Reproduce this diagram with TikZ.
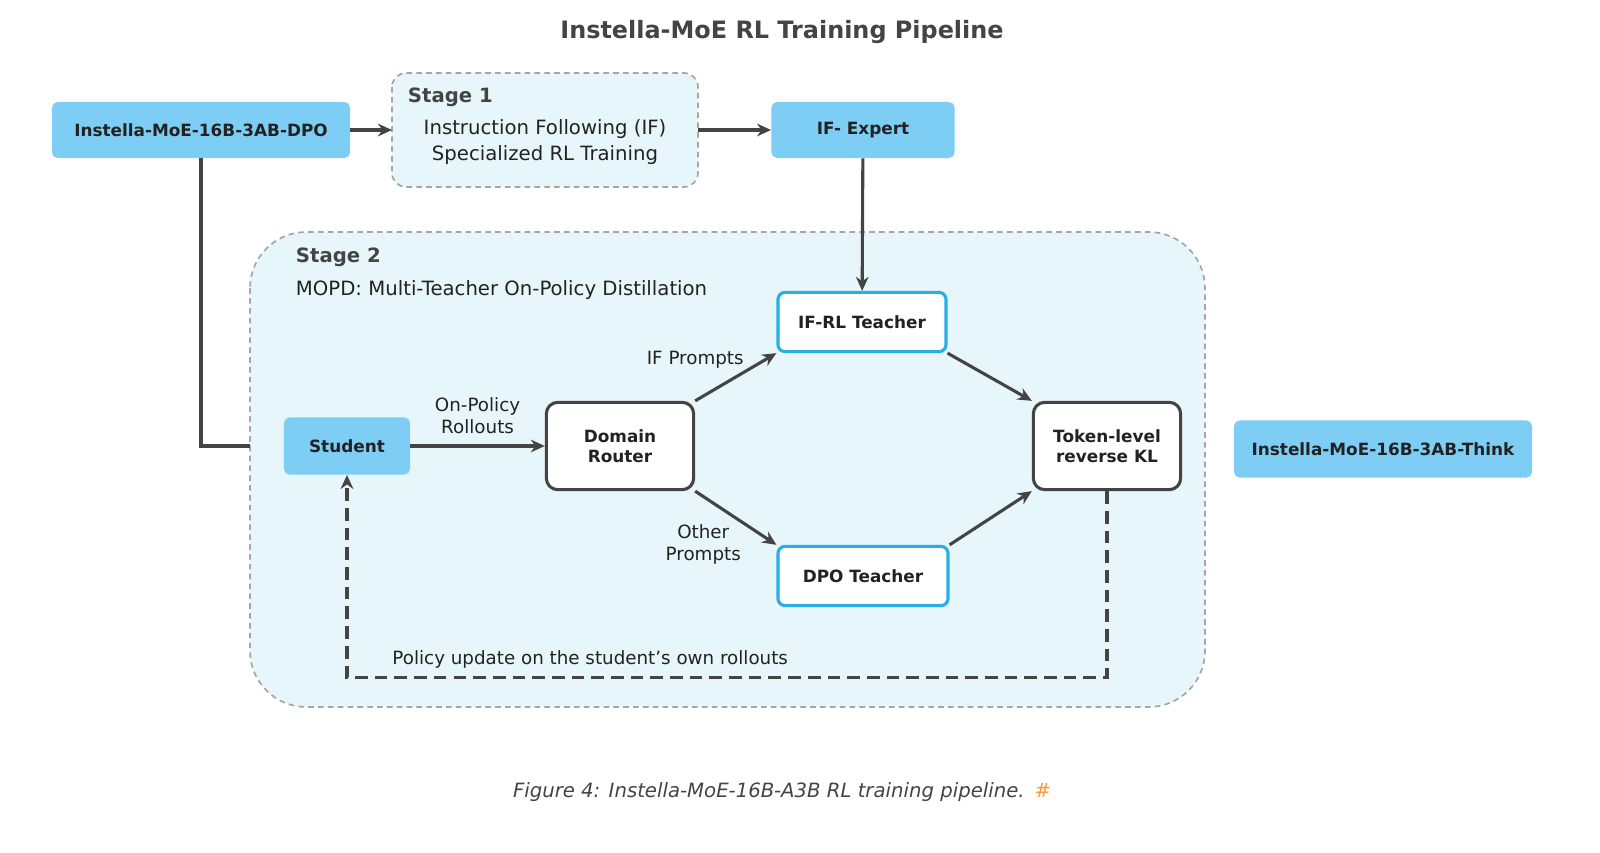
\documentclass[tikz,border=0pt]{standalone}
\usepackage{fontspec}
\setmainfont{DejaVu Sans}
\usepackage{xcolor}
\usetikzlibrary{positioning,arrows.meta}
\definecolor{boxblue}{HTML}{7DCDF5}
\definecolor{stagefill}{HTML}{E6F6FB}
\definecolor{tealborder}{HTML}{29AEE8}
\definecolor{darkline}{HTML}{444444}
\definecolor{txt}{HTML}{222222}

\tikzset{
  model/.style={rectangle,rounded corners=4pt,fill=boxblue,text=txt,font=\bfseries\fontsize{12}{14}\selectfont,inner sep=0pt},
  teacher/.style={rectangle,rounded corners=5pt,fill=white,draw=tealborder,line width=2.2pt,text=txt,font=\bfseries\fontsize{12}{14}\selectfont,inner sep=0pt},
  plain/.style={rectangle,rounded corners=8pt,fill=white,draw=darkline,line width=2.2pt,text=txt,font=\bfseries\fontsize{12}{14}\selectfont,align=center,inner sep=0pt},
  stage/.style={draw=gray!70,dash pattern=on 4pt off 3pt,line width=1.2pt,fill=stagefill},
  conn/.style={-{Stealth[length=10pt,width=9pt]},draw=darkline,line width=2.2pt},
  lbl/.style={text=txt,font=\fontsize{13}{16}\selectfont,align=center}
}

\begin{document}
\begin{tikzpicture}[x=0.025cm,y=-0.025cm]
  \useasboundingbox (0,0) rectangle (1600,853);

  \node[font=\bfseries\fontsize{17}{20}\selectfont,text=darkline] (title) at (782,32) {Instella-MoE RL Training Pipeline};

  % stage boxes
  \draw[stage,rounded corners=10pt] (392,73) rectangle (698,187);
  \coordinate (s1w) at (392,130);
  \coordinate (s1e) at (698,130);
  \node[anchor=west,font=\bfseries\fontsize{14}{17}\selectfont,text=darkline] (s1t) at (403,97) {Stage 1};
  \node[lbl,font=\fontsize{14}{18}\selectfont] (s1b) at (545,142) {Instruction Following (IF)\\Specialized RL Training};

  \draw[stage,rounded corners=40pt] (250,232) rectangle (1205,707);
  \coordinate (s2w) at (250,446);
  \node[anchor=west,font=\bfseries\fontsize{14}{17}\selectfont,text=darkline] (s2t) at (291,257) {Stage 2};
  \node[anchor=west,lbl,font=\fontsize{14}{17}\selectfont] (s2b) at (291,290) {MOPD: Multi-Teacher On-Policy Distillation};

  % nodes
  \node[model,minimum width=7.45cm,minimum height=1.4cm] (dpo) at (201,130) {Instella-MoE-16B-3AB-DPO};
  \node[model,minimum width=4.58cm,minimum height=1.4cm] (ifexp) at (863,130) {IF- Expert};
  \node[teacher,minimum width=4.2cm,minimum height=1.48cm] (ifrl) at (862,322) {IF-RL Teacher};
  \node[teacher,minimum width=4.25cm,minimum height=1.48cm] (dpot) at (863,576) {DPO Teacher};
  \node[model,minimum width=3.15cm,minimum height=1.43cm] (student) at (347,446) {Student};
  \node[plain,minimum width=3.68cm,minimum height=2.18cm] (router) at (620,446) {Domain\\Router};
  \node[plain,minimum width=3.68cm,minimum height=2.18cm] (kl) at (1107,446) {Token-level\\reverse KL};
  \node[model,minimum width=7.45cm,minimum height=1.43cm] (think) at (1383,449) {Instella-MoE-16B-3AB-Think};

  % connectors
  \draw[conn] (dpo) -- (s1w);
  \draw[conn] (s1e) -- (ifexp);
  \draw[conn] (ifexp) -- (ifrl);
  \draw[darkline,line width=2.2pt] (dpo.south) |- (s2w);
  \draw[conn] (student) -- node[lbl,above=4pt] {On-Policy\\Rollouts} (router);
  \draw[conn] (router.north east) -- node[lbl,above left=2pt and -10pt] {IF Prompts} (ifrl.south west);
  \draw[conn] (router.south east) -- node[lbl,below left=0pt and -8pt] {Other\\Prompts} (dpot.north west);
  \draw[conn] (ifrl.south east) -- (kl.north west);
  \draw[conn] (dpot.north east) -- (kl.south west);
  \draw[conn,dash pattern=on 9pt off 5pt] (kl.south) -- ++(0,186) -| node[lbl,pos=0.34,above=2pt] {Policy update on the student's own rollouts} (student.south);

  % caption
  \node[font=\itshape\fontsize{14}{17}\selectfont,text=darkline] (cap) at (782,792) {Figure 4: Instella-MoE-16B-A3B RL training pipeline.\enspace{\color{orange!80}\#}};
\end{tikzpicture}
\end{document}
